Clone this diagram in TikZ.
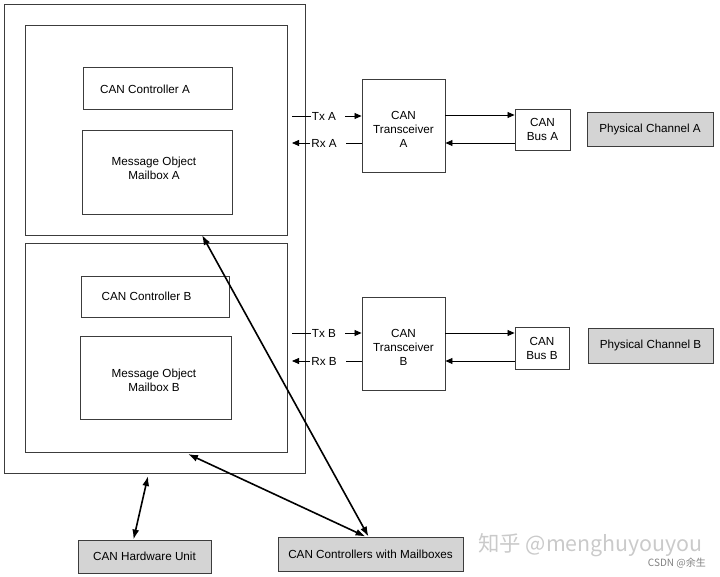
\documentclass[tikz,border=0pt]{standalone}
\usepackage{fontspec}
\setmainfont{Liberation Sans}
\newfontfamily\cjk{Noto Sans CJK SC}
\usetikzlibrary{arrows.meta}
\definecolor{edge}{HTML}{3C3C3C}
\definecolor{boxgray}{HTML}{D4D4D4}
\definecolor{wm}{HTML}{CACACA}
\tikzset{
  txt/.style={font=\fontsize{11.7}{14}\selectfont},
  box/.style={draw=edge, line width=0.9pt, fill=white, inner sep=0pt, align=center, txt},
  graybox/.style={box, fill=boxgray},
  inlbl/.style={txt, align=center, inner sep=0pt},
  lbl/.style={inner sep=1pt, txt},
  sig/.style={draw=black, line width=0.8pt},
  sigarrow/.style={sig, -{Triangle[length=7pt,width=6pt]}},
  link/.style={draw=black, line width=1.6pt, {Latex[length=10pt,width=7pt]}-{Latex[length=10pt,width=7pt]}},
}
\begin{document}
\begin{tikzpicture}[x=1pt,y=-1pt]
\useasboundingbox (0,0) rectangle (720,577);
% containers
\node[box, minimum width=301pt, minimum height=469pt] (outer) at (154.5,238.5) {};
\node[box, minimum width=262pt, minimum height=210pt] (boxA) at (156,130) {};
\node[box, minimum width=262pt, minimum height=209pt] (boxB) at (156,347.5) {};
% inner blocks A
\node[box, minimum width=149pt, minimum height=42pt,
  label={[inlbl, xshift=-12.5pt, yshift=-1.5pt]center:CAN Controller A}] (ctrlA) at (157.5,88) {};
\node[box, minimum width=150pt, minimum height=84pt,
  label={[inlbl, xshift=-3pt, yshift=3.5pt]center:Message Object\\Mailbox A}] (mbA) at (157,172) {};
% inner blocks B
\node[box, minimum width=148pt, minimum height=41pt,
  label={[inlbl, xshift=-8.5pt]center:CAN Controller B}] (ctrlB) at (155,296.5) {};
\node[box, minimum width=151pt, minimum height=83pt,
  label={[inlbl, xshift=-1.5pt, yshift=-3pt]center:Message Object\\Mailbox B}] (mbB) at (155.5,377.5) {};
% transceivers and buses
\node[box, minimum width=83pt, minimum height=93pt,
  label={[inlbl, yshift=-3.5pt]center:CAN\\Transceiver\\A}] (trA) at (403.5,125.5) {};
\node[box, minimum width=55pt, minimum height=41pt] (busA) at (542.5,129.5) {CAN\\Bus A};
\node[graybox, minimum width=126pt, minimum height=34pt] (phA) at (650,129) {Physical Channel A};
\node[box, minimum width=83pt, minimum height=93pt,
  label={[inlbl, yshift=-3.5pt]center:CAN\\Transceiver\\B}] (trB) at (403.5,343.5) {};
\node[box, minimum width=54pt, minimum height=42pt] (busB) at (542,348) {CAN\\Bus B};
\node[graybox, minimum width=125pt, minimum height=35pt] (phB) at (650.5,345.5) {Physical Channel B};
% bottom labels
\node[graybox, minimum width=133pt, minimum height=33pt] (hw) at (144.5,556.5) {CAN Hardware Unit};
\node[graybox, minimum width=185pt, minimum height=34pt] (cwm) at (370.5,554) {CAN Controllers with Mailboxes};
% Tx/Rx labels
\node[lbl] (txA) at (324,116) {Tx A};
\node[lbl] (rxA) at (324,143) {Rx A};
\node[lbl] (txB) at (324,333) {Tx B};
\node[lbl] (rxB) at (324,361) {Rx B};
\coordinate (txAs) at (292,116);
\coordinate (rxAe) at (292,143);
\coordinate (txBs) at (292,333);
\coordinate (rxBe) at (292,361);
% signal lines A
\draw[sig] (txAs) -- (txA.west);
\draw[sigarrow] (txA.east) ++(8,0) -- (trA.west |- txA);
\draw[sig] (trA.west |- rxA) -- ([xshift=8pt]rxA.east);
\draw[sigarrow] (rxA.west) -- (rxAe);
\draw[sigarrow] (trA.east |- 0,115) -- (busA.west |- 0,115);
\draw[sigarrow] (busA.west |- 0,143) -- (trA.east |- 0,143);
% signal lines B
\draw[sig] (txBs) -- (txB.west);
\draw[sigarrow] (txB.east) ++(8,0) -- (trB.west |- txB);
\draw[sig] (trB.west |- rxB) -- ([xshift=8pt]rxB.east);
\draw[sigarrow] (rxB.west) -- (rxBe);
\draw[sigarrow] (trB.east |- 0,333) -- (busB.west |- 0,333);
\draw[sigarrow] (busB.west |- 0,361) -- (trB.east |- 0,361);
% links
\coordinate (aA) at (202,235);
\coordinate (aB) at (188,454);
\coordinate (aO) at (148,476);
\draw[link] (aA) -- ([xshift=-2pt]cwm.north);
\draw[link] (aB) -- ([xshift=-5pt]cwm.north);
\draw[link] (aO) -- ([xshift=-11pt]hw.north);
% watermark
\node[text=wm, font=\cjk\fontsize{21.4}{23}\selectfont, anchor=west, inner sep=0pt] (wm1) at (478,545) {知乎 @menghuyouyou};
\node[text=gray, font=\cjk\fontsize{10}{12}\selectfont, anchor=east, inner sep=0pt] (wm2) at (706,563) {CSDN @余生};
\end{tikzpicture}
\end{document}
